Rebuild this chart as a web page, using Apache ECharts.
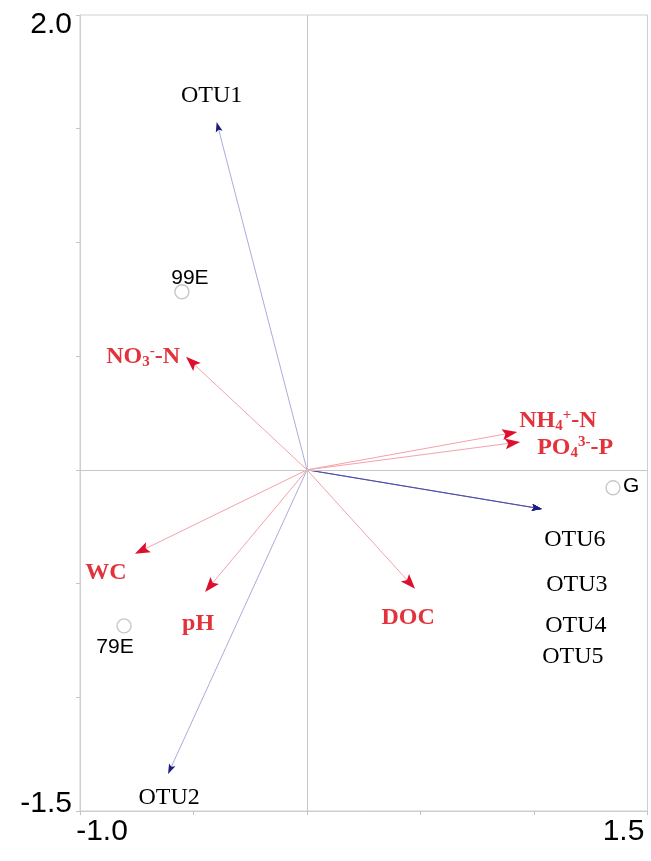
<!DOCTYPE html>
<html>
<head>
<meta charset="utf-8">
<title>RDA biplot</title>
<script src="https://cdn.jsdelivr.net/npm/echarts@6/dist/echarts.min.js"></script>
<style>
  html, body { margin: 0; padding: 0; background: #ffffff; }
  #chart { width: 651px; height: 861px; }
</style>
</head>
<body>
<div id="chart"></div>
<script>
// Axis ranges (RDA1 horizontal, RDA2 vertical)
const xRange = [-1.0, 1.5];
const yRange = [-1.5, 2.0];
const tickStep = 0.5;

// Environmental factors (arrow tips)
const envNames = ['NO3-N', 'NH4-N', 'PO4-P', 'WC', 'pH', 'DOC'];
const envRDA1 = [-0.533, 0.926, 0.939, -0.758, -0.449, 0.476];
const envRDA2 = [0.497, 0.167, 0.123, -0.369, -0.537, -0.523];

// Species (OTU) arrow tips
const otuNames = ['OTU1', 'OTU2', 'OTU3', 'OTU4', 'OTU5', 'OTU6'];
const otuRDA1 = [-0.398, -0.612, 1.035, 1.035, 1.035, 1.035];
const otuRDA2 = [1.530, -1.337, -0.172, -0.172, -0.172, -0.172];

// Sampling sites
const siteNames = ['99E', '79E', 'G'];
const siteRDA1 = [-0.551, -0.806, 1.348];
const siteRDA2 = [0.783, -0.686, -0.079];

// ---- styling ----
const ENV_LINE = '#f4a2ac';
const ENV_HEAD = '#dd0f2d';
const ENV_TEXT = '#e2323c';
const OTU_LINE = 'rgba(45,45,160,0.40)';
const OTU_HEAD = '#1d1d80';

// rich-text versions of the chemical names
const envRich = {
  'NO3-N': '{n|NO}{sub|3}{sup|-}{n|-N}',
  'NH4-N': '{n|NH}{sub|4}{sup|+}{n|-N}',
  'PO4-P': '{n|PO}{sub|4}{sup|3-}{n|-P}'
};
const envRichStyles = {
  n:   { fontSize: 24, fontWeight: 'bold', fontFamily: 'Liberation Serif', fill: ENV_TEXT, lineHeight: 26 },
  sub: { fontSize: 15, fontWeight: 'bold', fontFamily: 'Liberation Serif', fill: ENV_TEXT, lineHeight: 14, verticalAlign: 'bottom' },
  sup: { fontSize: 15, fontWeight: 'bold', fontFamily: 'Liberation Serif', fill: ENV_TEXT, lineHeight: 14, verticalAlign: 'top' }
};

// label placement relative to the arrow tip (pixels)
const envLabelPos = {
  'NO3-N': { dx: -6, dy: 0, align: 'right' },
  'NH4-N': { dx: 2, dy: -11, align: 'left' },
  'PO4-P': { dx: 17, dy: 6, align: 'left' },
  'WC':    { dx: -29, dy: 19, align: 'center' },
  'pH':    { dx: -7, dy: 32, align: 'center' },
  'DOC':   { dx: -7, dy: 29, align: 'center' }
};
const otuLabelPos = {
  'OTU1': { dx: -5, dy: -26 },
  'OTU2': { dx: 1, dy: 24 },
  'OTU3': { dx: 35, dy: 76 },
  'OTU4': { dx: 34, dy: 117 },
  'OTU5': { dx: 31, dy: 148 },
  'OTU6': { dx: 33, dy: 31 }
};
const siteLabelPos = {
  '99E': { dx: 8, dy: -14, align: 'center' },
  '79E': { dx: -9, dy: 21, align: 'center' },
  'G':   { dx: 10, dy: -2, align: 'left' }
};

function arrowRenderer(names, lineColor, headColor, headLen, headHalf, labelFn) {
  return function (params, api) {
    const o = api.coord([0, 0]);
    const t = api.coord([api.value(0), api.value(1)]);
    const dx = t[0] - o[0], dy = t[1] - o[1];
    const L = Math.sqrt(dx * dx + dy * dy);
    const ux = dx / L, uy = dy / L;
    const nx = -uy, ny = ux;
    const bx = t[0] - ux * headLen, by = t[1] - uy * headLen;
    const notchX = t[0] - ux * headLen * 0.8, notchY = t[1] - uy * headLen * 0.8;
    const children = [
      {
        type: 'line',
        shape: { x1: o[0], y1: o[1], x2: notchX, y2: notchY },
        style: { stroke: lineColor, lineWidth: 1 }
      },
      {
        type: 'polygon',
        shape: { points: [
          [t[0], t[1]],
          [bx + nx * headHalf, by + ny * headHalf],
          [notchX, notchY],
          [bx - nx * headHalf, by - ny * headHalf]
        ] },
        style: { fill: headColor }
      }
    ];
    const lbl = labelFn(names[params.dataIndex], t);
    if (lbl) children.push(lbl);
    return { type: 'group', children: children };
  };
}

function envLabel(name, t) {
  const p = envLabelPos[name];
  const text = envRich[name] || ('{n|' + name + '}');
  return {
    type: 'text',
    x: t[0] + p.dx,
    y: t[1] + p.dy,
    style: {
      text: text,
      rich: envRichStyles,
      align: p.align,
      verticalAlign: 'middle',
      fill: ENV_TEXT
    }
  };
}

function otuLabel(name, t) {
  const p = otuLabelPos[name];
  return {
    type: 'text',
    x: t[0] + p.dx,
    y: t[1] + p.dy,
    style: {
      text: name,
      font: '24px "Liberation Serif"',
      fill: '#000000',
      align: 'center',
      verticalAlign: 'middle'
    }
  };
}

const envData = envNames.map((n, i) => [envRDA1[i], envRDA2[i]]);
const otuData = otuNames.map((n, i) => [otuRDA1[i], otuRDA2[i]]);
const siteData = siteNames.map((n, i) => {
  const p = siteLabelPos[n];
  return {
    name: n,
    value: [siteRDA1[i], siteRDA2[i]],
    label: { offset: [p.dx, p.dy], align: p.align }
  };
});

const chart = echarts.init(document.getElementById('chart'), null, { renderer: 'canvas' });

const option = {
  backgroundColor: '#ffffff',
  animation: false,
  grid: {
    left: 80, right: 3.5, top: 15, bottom: 50,
    show: true, borderColor: '#cfcfcf', borderWidth: 1, backgroundColor: 'transparent'
  },
  xAxis: {
    type: 'value',
    min: xRange[0], max: xRange[1], interval: tickStep,
    axisLine: { show: true, onZero: false, lineStyle: { color: '#cfcfcf', width: 1 } },
    axisTick: { show: true, length: 4, lineStyle: { color: '#c4c4c4' } },
    splitLine: { show: false },
    axisLabel: {
      margin: 6,
      formatter: function (v) {
        if (v === xRange[0]) return '{lo|' + v.toFixed(1) + '}';
        if (v === xRange[1]) return '{hi|' + v.toFixed(1) + '}';
        return '';
      },
      rich: {
        lo: { fontSize: 30, fontFamily: 'Liberation Sans', color: '#000', padding: [0, 0, 0, 44] },
        hi: { fontSize: 30, fontFamily: 'Liberation Sans', color: '#000', padding: [0, 48, 0, 0] }
      }
    }
  },
  yAxis: {
    type: 'value',
    min: yRange[0], max: yRange[1], interval: tickStep,
    axisLine: { show: true, onZero: false, lineStyle: { color: '#cfcfcf', width: 1 } },
    axisTick: { show: true, length: 4, lineStyle: { color: '#c4c4c4' } },
    splitLine: { show: false },
    axisLabel: {
      margin: 8,
      formatter: function (v) {
        if (v === yRange[1]) return '{top|' + v.toFixed(1) + '}';
        if (v === yRange[0]) return '{bot|' + v.toFixed(1) + '}';
        return '';
      },
      rich: {
        top: { fontSize: 30, fontFamily: 'Liberation Sans', color: '#000', padding: [20, 0, 0, 0] },
        bot: { fontSize: 30, fontFamily: 'Liberation Sans', color: '#000', padding: [0, 0, 14, 0] }
      }
    }
  },
  series: [
    {
      // zero reference lines
      type: 'scatter',
      data: [],
      z: 1,
      markLine: {
        silent: true,
        symbol: ['none', 'none'],
        label: { show: false },
        lineStyle: { color: '#c6c6c6', width: 1, type: 'solid' },
        emphasis: { disabled: true },
        data: [{ xAxis: 0 }, { yAxis: 0 }]
      }
    },
    {
      type: 'custom',
      name: 'species',
      z: 3,
      data: otuData,
      renderItem: arrowRenderer(otuNames, OTU_LINE, OTU_HEAD, 10, 3.5, otuLabel)
    },
    {
      type: 'custom',
      name: 'environment',
      z: 4,
      data: envData,
      renderItem: arrowRenderer(envNames, ENV_LINE, ENV_HEAD, 15, 5.5, envLabel)
    },
    {
      type: 'scatter',
      name: 'sites',
      z: 5,
      data: siteData,
      symbol: 'circle',
      symbolSize: 14,
      itemStyle: { color: '#ffffff', borderColor: '#c8c8c8', borderWidth: 1.4, opacity: 1 },
      label: {
        show: true,
        position: 'inside',
        formatter: '{b}',
        fontFamily: 'Liberation Sans',
        fontSize: 21,
        color: '#000000',
        opacity: 1,
        textBorderWidth: 0,
        verticalAlign: 'middle'
      }
    }
  ]
};

chart.setOption(option);
</script>
</body>
</html>
